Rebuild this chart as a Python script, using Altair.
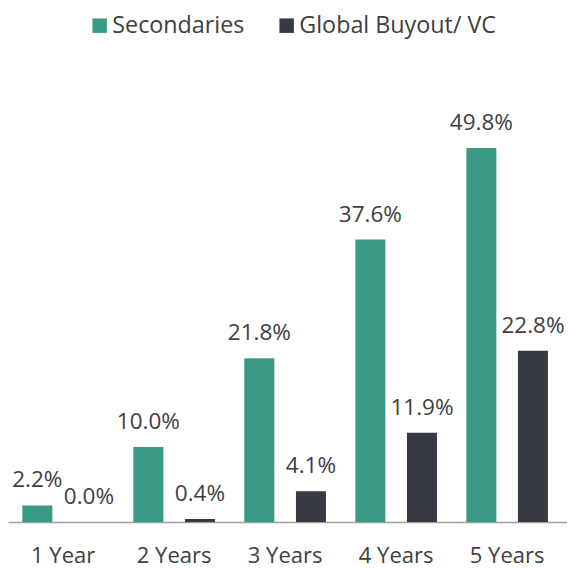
import altair as alt
import pandas as pd

categories = ["1 Year", "2 Years", "3 Years", "4 Years", "5 Years"]
series = ["Secondaries", "Global Buyout/ VC"]
secondaries = [2.2, 10.0, 21.8, 37.6, 49.8]
buyout = [0.0, 0.4, 4.1, 11.9, 22.8]
colors = ["#3a9a86", "#373a41"]

rows = []
for c, s, b in zip(categories, secondaries, buyout):
    rows.append({"period": c, "series": series[0], "value": s, "label": f"{s:.1f}%"})
    rows.append({"period": c, "series": series[1], "value": b, "label": f"{b:.1f}%"})
df = pd.DataFrame(rows)

FONT = "Open Sans"
TXT = "#404040"

x = alt.X("period:N", sort=categories, title=None,
          scale=alt.Scale(paddingInner=0.07, paddingOuter=0.0531, align=0.3),
          axis=alt.Axis(labelAngle=0, ticks=False, domainColor="#a0a0a0", domainWidth=1.3,
                        labelFont=FONT, labelFontSize=22, labelColor=TXT, labelPadding=23))
xo = alt.XOffset("series:N", sort=series, scale=alt.Scale(paddingInner=0, paddingOuter=0))
y = alt.Y("value:Q", scale=alt.Scale(domain=[0, 68.44], nice=False, zero=True), axis=None)

base = alt.Chart(df).encode(x=x, xOffset=xo, y=y)

bars = base.mark_bar(width=30).encode(
    color=alt.Color("series:N", sort=series,
                    scale=alt.Scale(domain=series, range=colors),
                    legend=alt.Legend(title=None, orient="none", legendX=80, legendY=6,
                                      direction="horizontal", symbolType="square",
                                      symbolSize=210, symbolStrokeWidth=0, padding=0,
                                      labelFont=FONT, labelFontSize=23.3, labelColor=TXT,
                                      labelOffset=1, columnPadding=30, labelLimit=0))
)

labels = base.mark_text(baseline="alphabetic", dy=-18, font=FONT, fontSize=22.5, color=TXT).encode(
    text="label:N"
)

chart = (bars + labels).properties(
    width=559, height=514, background="white",
    padding={"left": 0, "right": 0, "top": 0, "bottom": 8}
).configure_view(stroke=None)

chart.save("out.html", embed_options={"renderer": "svg", "actions": False})
